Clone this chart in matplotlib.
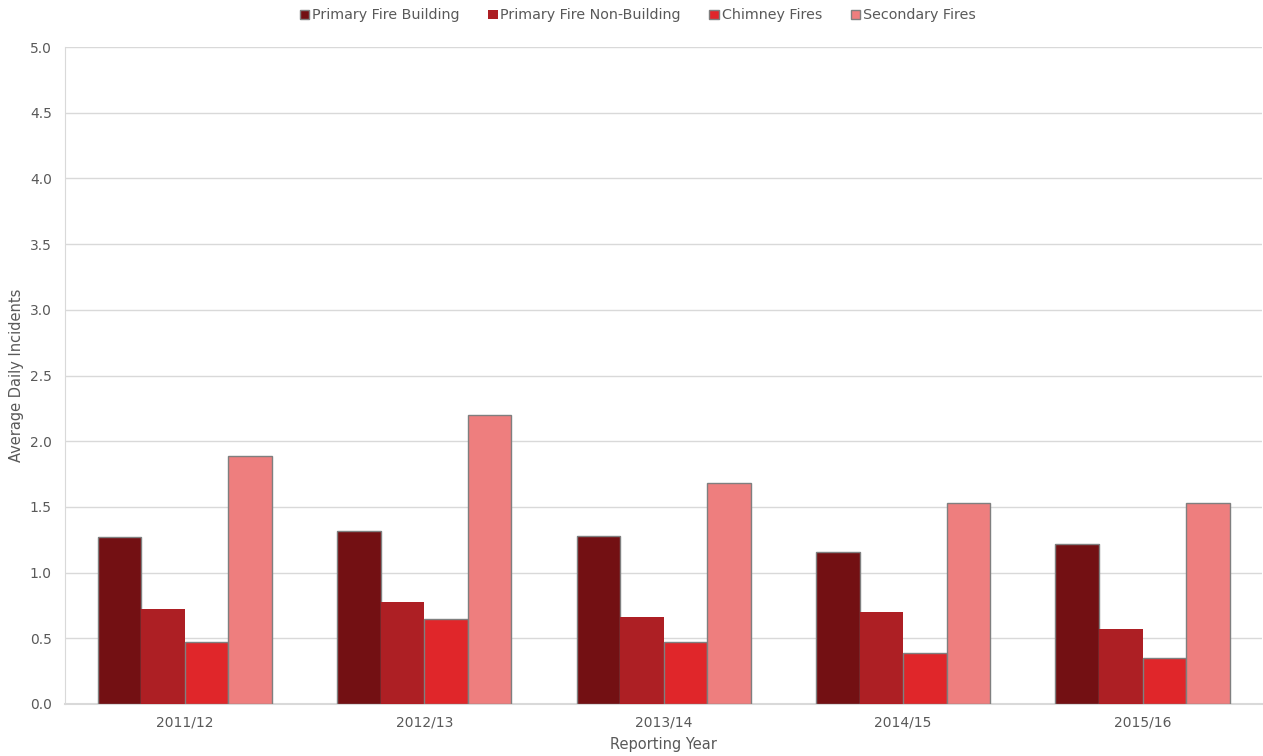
import matplotlib
matplotlib.use('Agg')
import matplotlib.pyplot as plt
import numpy as np

years = ['2011/12', '2012/13', '2013/14', '2014/15', '2015/16']
series_names = ['Primary Fire Building', 'Primary Fire Non-Building', 'Chimney Fires', 'Secondary Fires']
primary_building = [1.27, 1.32, 1.28, 1.16, 1.22]
primary_non_building = [0.72, 0.78, 0.66, 0.70, 0.57]
chimney = [0.47, 0.65, 0.47, 0.39, 0.35]
secondary = [1.89, 2.20, 1.68, 1.53, 1.53]

colors = ['#731013', '#AD1F24', '#E0262A', '#EE7E7E']
edges = ['#7f7f7f', 'none', '#7f7f7f', '#7f7f7f']
text_col = '#595959'

fig = plt.figure(figsize=(12.63, 7.56), dpi=100)
ax = fig.add_axes([0.0515, 0.0688, 0.948, 0.869])

x = np.arange(len(years))
w = 0.182
data = [primary_building, primary_non_building, chimney, secondary]
for i, vals in enumerate(data):
    ax.bar(x + (i - 1.5) * w, vals, w, color=colors[i], edgecolor=edges[i],
           linewidth=1.0, label=series_names[i], zorder=3)

ax.set_xlim(-0.5, 4.5)
ax.set_ylim(0, 5)
ax.set_yticks(np.arange(0, 5.01, 0.5))
ax.set_yticklabels([f'{v:.1f}' for v in np.arange(0, 5.01, 0.5)])
ax.set_xticks(x)
ax.set_xticklabels(years)
ax.tick_params(length=0, colors=text_col, labelsize=10)
ax.tick_params(axis='y', pad=9.5)
ax.tick_params(axis='x', pad=8)
ax.grid(axis='y', color='#d9d9d9', linewidth=1, zorder=0)
for s in ['top', 'right']:
    ax.spines[s].set_visible(False)
ax.spines['left'].set_color('#d9d9d9')
ax.spines['bottom'].set_color('#d9d9d9')
ax.spines['bottom'].set_linewidth(1.5)

ax.set_ylabel('Average Daily Incidents', color=text_col, fontsize=10.5, labelpad=4)
ax.set_xlabel('Reporting Year', color=text_col, fontsize=10.5, labelpad=6)

leg = fig.legend(loc='upper center', bbox_to_anchor=(0.505, 1.006), ncol=4, frameon=False,
                 fontsize=10.3, handlelength=0.65, handleheight=0.65, handletextpad=0.2,
                 columnspacing=2.0)
for t in leg.get_texts():
    t.set_color(text_col)

fig.savefig('out.png', dpi=100)
